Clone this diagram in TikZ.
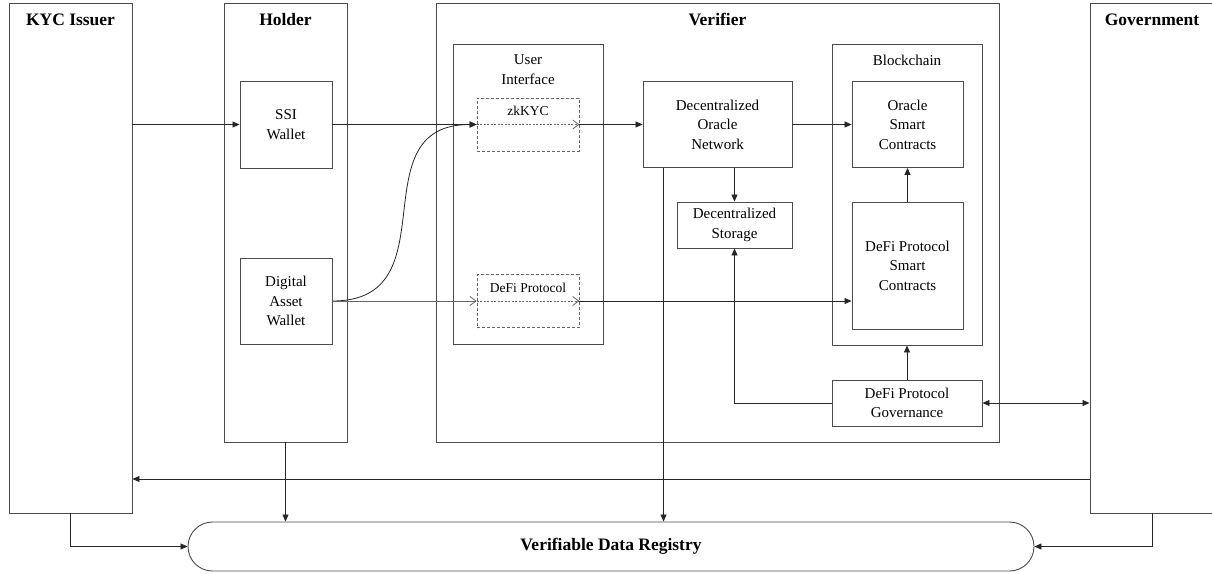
\documentclass[tikz,border=0pt]{standalone}
\usepackage{fontspec}
\setmainfont{Liberation Serif}
\usetikzlibrary{arrows.meta,positioning}

\tikzset{
  lane/.style={draw=black!70, line width=0.9pt, inner sep=0pt},
  part/.style={draw=black!70, line width=0.9pt, inner sep=0pt, align=center, font=\fontsize{15}{19.5}\selectfont},
  uipart/.style={draw=black!60, line width=0.8pt, dash pattern=on 3pt off 2pt, inner sep=0pt},
  title/.style={font=\fontsize{17.5}{21}\selectfont\bfseries},
  caption/.style={align=center, font=\fontsize{15}{19.5}\selectfont},
  smallcap/.style={font=\fontsize{13.5}{16}\selectfont},
  flow/.style={draw=black!85, line width=0.8pt, -{Triangle[length=7pt,width=6pt]}},
  pass/.style={draw=black!60, line width=0.8pt, -{Straight Barb[length=6pt,width=9pt]}},
}

\begin{document}
\begin{tikzpicture}[x=1pt,y=-1pt]
    \useasboundingbox (0,0) rectangle (1212,573);
    % Lanes
    \node[lane, minimum width=123, minimum height=510] (kyc) at (70.5,258) {};
    \node[title] at (70.5,19.5) {KYC Issuer};
    \node[lane, minimum width=123, minimum height=439] (holder) at (285.5,222.5) {};
    \node[title] at (285.5,19.5) {Holder};
    \node[lane, minimum width=563, minimum height=439] (verifier) at (717.5,222.5) {};
    \node[title] at (717.5,19.5) {Verifier};
    \node[lane, minimum width=124, minimum height=510] (govt) at (1152,258) {};
    \node[title] at (1152,19.5) {Government};
    % Holder wallets
    \node[part, minimum width=92, minimum height=87] (ssi) at (286,124.5) {SSI\\Wallet};
    \node[part, minimum width=92, minimum height=86] (daw) at (286,301) {Digital\\Asset\\Wallet};
    % User interface
    \node[lane, minimum width=150, minimum height=300] (ui) at (528,194) {};
    \node[caption, below=8pt of ui.north] {User\\Interface};
    \node[uipart, minimum width=102, minimum height=53] (zk) at (528,124.5) {};
    \node[smallcap, below=5pt of zk.north] {zkKYC};
    \node[uipart, minimum width=102, minimum height=53] (dui) at (528,301) {};
    \node[smallcap, below=5pt of dui.north] {DeFi Protocol};
    % Oracle and storage
    \node[part, minimum width=149, minimum height=86] (don) at (717.5,124.5) {Decentralized\\Oracle\\Network};
    \node[part, minimum width=115, minimum height=46] (store) at (734.5,225) {Decentralized\\Storage};
    % Blockchain
    \node[lane, minimum width=150, minimum height=301] (chain) at (907,194.5) {};
    \node[caption, below=8pt of chain.north] {Blockchain};
    \node[part, minimum width=111, minimum height=86] (osc) at (907.5,124.5) {Oracle\\Smart\\Contracts};
    \node[part, minimum width=111, minimum height=127] (dpsc) at (907.5,265.5) {DeFi Protocol\\Smart\\Contracts};
    \node[part, minimum width=150, minimum height=46] (gov) at (907,403) {DeFi Protocol\\Governance};
    % Registry
    \node[draw=black!70, line width=0.9pt, rounded corners=24.5pt, minimum width=846, minimum height=49, title] (reg) at (611,546.5) {Verifiable Data Registry};
    \coordinate (back) at (0,479);
    % Connectors
    \draw[flow] (ssi.west -| kyc.east) -- (ssi.west);
    \draw[flow] (ssi.east) -- (zk.west);
    \draw[flow] (daw.east) .. controls +(120,0) and +(-120,0) .. (zk.west);
    \draw[pass, dash pattern=on 2pt off 1.5pt] (zk.west) -- (zk.east);
    \draw[flow] (zk.east) -- (don.west);
    \draw[pass] (daw.east) -- (dui.west);
    \draw[pass, dash pattern=on 2pt off 1.5pt] (dui.west) -- (dui.east);
    \draw[flow] (dui.east) -- (dui.east -| dpsc.west);
    \draw[flow] (don.east) -- (osc.west);
    \draw[flow] (don.south -| store.north) -- (store.north);
    \draw[flow] (dpsc.north) -- (osc.south);
    \draw[flow] (gov.north) -- (chain.south);
    \draw[flow] (gov.west) -| (store.south);
    \draw[flow, {Triangle[length=7pt,width=6pt]}-{Triangle[length=7pt,width=6pt]}] (gov.east) -- (gov.east -| govt.west);
    \draw[flow] (govt.west |- back) -- (kyc.east |- back);
    \draw[flow] ([xshift=21pt]don.south west) -- ([xshift=21pt]don.south west |- reg.north);
    \draw[flow] (holder.south) -- (holder.south |- reg.north);
    \draw[flow] (kyc.south) |- (reg.west);
    \draw[flow] (govt.south) |- (reg.east);
\end{tikzpicture}
\end{document}
